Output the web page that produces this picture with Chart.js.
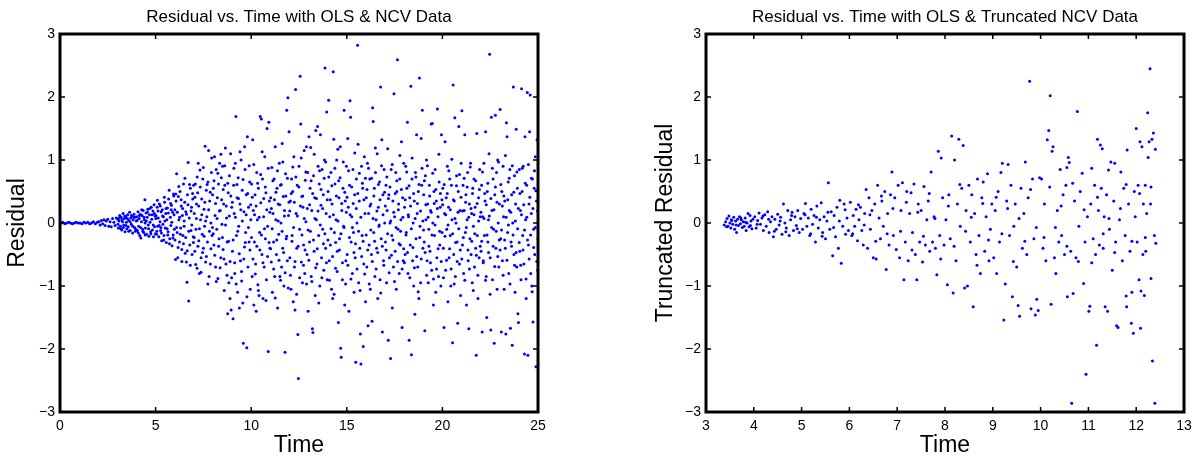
<!DOCTYPE html>
<html><head><meta charset="utf-8">
<script src="https://cdn.jsdelivr.net/npm/chart.js@4/dist/chart.umd.min.js"></script>
<style>
html,body{margin:0;padding:0;background:#fff;}
#wrap{position:relative;width:1202px;height:462px;}
.c{position:absolute;top:0;width:601px;height:462px;}
</style></head>
<body><div id="wrap">
<div class="c" style="left:0"><canvas id="cl"></canvas></div>
<div class="c" style="left:601px"><canvas id="cr"></canvas></div>
</div>
<script>
// ---------- LEFT: Residual vs Time (OLS & NCV) ----------
const leftFlat0to5 = [
[0.05,0],[0.15,0.01],[0.25,-0.01],[0.35,0],[0.45,0.01],[0.55,0],[0.65,-0.01],[0.75,0],[0.85,0.01],[0.95,0],[1.05,0],[1.15,-0.01],[1.25,0.01],[1.35,0],[1.45,0.01],[1.55,-0.01],[1.65,0],[1.75,0.02],[1.85,-0.01],[1.95,0.01],
[2.03,0.02],[2.1,-0.03],[2.17,0.04],[2.23,-0.01],[2.3,0.05],[2.36,-0.04],[2.42,0.03],[2.5,0.06],[2.55,-0.05],[2.62,0.02],[2.68,-0.06],[2.75,0.07],[2.82,0.01],[2.88,-0.04],[2.95,0.08],
[3.02,0.06],[3.05,-0.08],[3.09,0.03],[3.12,0.12],[3.16,-0.05],[3.2,0.09],[3.23,-0.11],[3.27,0.02],[3.3,0.15],[3.33,-0.03],[3.37,0.07],[3.4,-0.14],[3.44,0.1],[3.47,0.01],[3.5,-0.09],[3.54,0.13],[3.57,-0.06],[3.6,0.04],[3.64,0.17],[3.67,-0.12],[3.7,0.08],[3.73,-0.02],[3.77,0.11],[3.8,-0.16],[3.83,0.05],[3.87,0.14],[3.9,-0.07],[3.93,0.09],[3.96,-0.1],[3.99,0.03],
[4.02,0.1],[4.05,-0.12],[4.08,0.18],[4.11,-0.05],[4.14,0.07],[4.17,-0.2],[4.2,0.14],[4.23,-0.24],[4.26,0.02],[4.29,0.12],[4.32,-0.1],[4.35,0.2],[4.38,-0.15],[4.41,0.05],[4.44,0.37],[4.47,-0.08],[4.5,0.16],[4.53,-0.18],[4.56,0.09],[4.59,0.22],[4.62,-0.03],[4.65,-0.21],[4.68,0.13],[4.71,0.01],[4.74,-0.14],[4.77,0.25],[4.8,0.06],[4.83,-0.11],[4.86,0.19],[4.89,-0.22],[4.92,0.29],[4.95,-0.06],[4.97,0.11],[4.99,-0.17],[4.45,0.0],
[3.035,-0.02],[3.105,0.08],[3.175,-0.09],[3.245,0.05],[3.315,-0.07],[3.385,0.11],[3.455,-0.04],[3.525,0.07],[3.595,-0.13],[3.665,0.02],[3.735,0.12],[3.805,-0.05],[3.875,0.09],[3.945,-0.13],[4.035,0.04],[4.095,-0.16],[4.155,0.12],[4.215,-0.07],[4.275,0.21],[4.335,-0.13],[4.395,0.09],[4.455,-0.19],[4.515,0.03],[4.575,0.17],[4.635,-0.09],[4.695,0.23],[4.755,-0.17],[4.815,0.13],[4.875,-0.03],[4.935,0.15]
];
const leftGrow5to10 = [
[5.02,0.12],[5.05,-0.18],[5.08,0.25],[5.11,-0.05],[5.14,0.08],[5.17,-0.22],[5.2,0.3],[5.23,0.02],[5.26,-0.12],[5.29,0.18],[5.32,-0.28],[5.35,0.21],[5.38,-0.02],[5.41,0.1],[5.44,-0.2],[5.47,0.33],[5.5,-0.08],[5.53,0.15],[5.56,-0.31],[5.59,0.05],[5.62,0.24],[5.65,-0.14],[5.68,0.38],[5.71,0.52],[5.74,-0.25],[5.77,0.09],[5.8,-0.04],[5.83,0.28],[5.86,-0.36],[5.89,0.17],[5.92,-0.19],[5.95,0.43],[5.98,-0.1],
[6.01,0.21],[6.04,-0.58],[6.07,0.35],[6.1,0.78],[6.13,-0.15],[6.16,-0.55],[6.19,0.42],[6.22,0.05],[6.25,-0.3],[6.28,0.5],[6.31,-0.08],[6.34,0.27],[6.37,-0.42],[6.4,0.12],[6.43,-0.2],[6.46,0.62],[6.49,-0.05],[6.52,0.33],[6.55,-0.48],[6.58,0.18],[6.61,-0.62],[6.64,-0.94],[6.67,0.45],[6.7,0.96],[6.73,-1.24],[6.76,0.08],[6.79,-0.35],[6.82,0.55],[6.85,-0.12],[6.88,0.25],[6.91,-0.5],[6.94,0.38],[6.97,-0.22],[6.99,0.6],
[7.02,0.15],[7.05,-0.45],[7.08,0.62],[7.11,-0.1],[7.14,0.3],[7.17,-0.72],[7.2,0.48],[7.23,0.95],[7.26,-0.28],[7.29,-0.8],[7.32,0.84],[7.35,0.05],[7.38,-0.55],[7.41,0.38],[7.44,-0.18],[7.47,0.7],[7.5,-0.4],[7.53,0.22],[7.56,-0.05],[7.59,1.22],[7.62,-0.62],[7.65,0.52],[7.68,0.1],[7.71,-0.3],[7.74,0.65],[7.77,1.15],[7.8,-0.85],[7.83,0.35],[7.86,-0.65],[7.89,0.0],[7.92,0.8],[7.95,-0.2],[7.98,0.45],
[8.02,0.55],[8.05,-0.35],[8.08,1.05],[8.11,0.12],[8.14,-0.7],[8.17,0.85],[8.2,-0.1],[8.23,0.4],[8.26,-0.88],[8.29,0.62],[8.32,-0.25],[8.35,0.95],[8.38,0.2],[8.41,-0.55],[8.44,0.72],[8.47,-0.02],[8.5,0.9],[8.53,-0.42],[8.56,0.3],[8.59,-1.07],[8.62,0.6],[8.65,1.19],[8.68,-0.65],[8.71,0.08],[8.74,-0.3],[8.77,-1.44],[8.8,0.48],[8.83,-0.95],[8.86,0.75],[8.89,-1.2],[8.92,1.1],[8.95,-1.38],[8.98,0.25],
[9.02,-0.45],[9.05,-1.52],[9.08,0.6],[9.11,0.15],[9.14,-0.8],[9.17,0.95],[9.2,1.69],[9.23,-0.2],[9.26,0.4],[9.29,-1.1],[9.32,0.72],[9.35,-0.05],[9.38,-1.35],[9.41,0.3],[9.44,-0.6],[9.47,1.0],[9.5,-0.92],[9.53,0.52],[9.56,-1.27],[9.59,-1.91],[9.62,0.18],[9.65,-0.38],[9.68,0.85],[9.71,-0.15],[9.74,0.45],[9.77,-1.98],[9.8,1.37],[9.83,-0.7],[9.86,0.25],[9.89,-0.3],[9.92,0.65],[9.95,-1.05],[9.98,0.05]
];
const leftGrowExtra5to10 = [
[5.015,0.07],[5.065,-0.13],[5.125,0.19],[5.185,-0.04],[5.245,0.27],[5.305,-0.16],[5.365,0.11],[5.425,-0.27],[5.485,0.03],[5.545,0.23],[5.605,-0.09],[5.665,0.16],[5.725,-0.33],[5.785,0.31],[5.845,0.01],[5.905,-0.24],[5.965,0.13],[5.095,0.36],[5.275,-0.07],[5.455,0.41],[5.635,-0.19],[5.815,0.21],[5.935,0.46],
[6.015,-0.27],[6.055,0.46],[6.095,-0.07],[6.135,0.17],[6.175,-0.39],[6.215,0.58],[6.255,0.09],[6.295,-0.18],[6.335,0.37],[6.375,-0.61],[6.415,0.23],[6.455,-0.33],[6.495,0.03],[6.535,0.71],[6.575,-0.23],[6.615,0.14],[6.655,-0.44],[6.695,0.29],[6.735,-0.13],[6.775,0.61],[6.815,-0.67],[6.855,0.19],[6.895,-0.03],[6.935,0.47],[6.975,-0.31],
[7.015,-0.23],[7.055,0.41],[7.095,-0.66],[7.135,0.07],[7.175,0.73],[7.215,-0.37],[7.255,0.27],[7.295,-0.09],[7.335,0.57],[7.375,-0.78],[7.415,0.13],[7.455,-0.47],[7.495,0.88],[7.535,-0.21],[7.575,0.33],[7.615,0.03],[7.655,-0.53],[7.695,0.61],[7.735,-0.97],[7.775,0.21],[7.815,-0.13],[7.855,0.49],[7.895,-0.41],[7.935,1.03],[7.975,-0.07],
[8.015,-0.17],[8.055,0.67],[8.095,-0.51],[8.135,0.31],[8.175,-0.93],[8.215,0.07],[8.255,0.79],[8.295,-0.37],[8.335,0.19],[8.375,-0.71],[8.415,1.09],[8.455,0.37],[8.495,-0.23],[8.535,0.53],[8.575,-0.57],[8.615,0.91],[8.655,-0.03],[8.695,0.27],[8.735,-0.83],[8.775,0.63],[8.815,-0.29],[8.855,0.11],[8.895,-0.61],[8.935,0.43],[8.975,-0.87],
[9.015,0.33],[9.055,-0.27],[9.095,0.87],[9.135,-0.63],[9.175,0.09],[9.215,-0.97],[9.255,0.61],[9.295,-0.13],[9.335,0.39],[9.375,-0.49],[9.415,1.13],[9.455,0.21],[9.495,-0.77],[9.535,0.03],[9.575,0.69],[9.615,-0.57],[9.655,1.21],[9.695,-0.31],[9.735,0.13],[9.775,-1.17],[9.815,0.47],[9.855,-0.07],[9.895,0.91],[9.935,-0.43],[9.975,0.29]
];
const leftMid10to15 = [
[10.02,0.62],[10.05,-0.85],[10.08,1.32],[10.11,0.2],[10.14,-1.3],[10.17,-0.3],[10.2,0.45],[10.23,-0.65],[10.26,-1.4],[10.29,0.8],[10.32,0.05],[10.35,-0.98],[10.38,0.55],[10.41,-1.15],[10.44,-0.15],[10.47,1.69],[10.5,0.32],[10.53,1.65],[10.56,-0.5],[10.59,0.7],[10.62,-1.2],[10.65,0.1],[10.68,-0.7],[10.71,1.05],[10.74,-0.25],[10.77,0.48],[10.8,-0.9],[10.83,1.5],[10.86,-0.05],[10.89,-2.04],[10.92,1.6],[10.95,0.35],[10.98,-0.4],
[11.02,0.4],[11.05,-0.62],[11.08,0.88],[11.11,-1.1],[11.14,0.15],[11.17,-0.3],[11.2,0.7],[11.23,-0.85],[11.26,1.21],[11.29,0.05],[11.32,-0.5],[11.35,0.55],[11.38,-1.35],[11.41,0.3],[11.44,-0.18],[11.47,0.95],[11.5,-0.85],[11.53,0.6],[11.56,0.0],[11.59,-0.7],[11.62,1.26],[11.65,-0.4],[11.68,0.42],[11.71,-1.0],[11.74,0.2],[11.77,-2.05],[11.8,0.78],[11.83,-0.25],[11.86,1.79],[11.89,-0.6],[11.92,1.99],[11.95,0.12],[11.98,1.45],
[12.02,-0.55],[12.05,0.35],[12.08,-1.05],[12.11,0.7],[12.14,-0.2],[12.17,0.5],[12.2,-1.25],[12.23,1.05],[12.26,-0.7],[12.29,-1.38],[12.32,2.12],[12.35,0.15],[12.38,-0.4],[12.41,0.6],[12.44,-1.77],[12.47,-2.47],[12.5,0.9],[12.53,-0.1],[12.56,2.33],[12.59,1.57],[12.62,-0.62],[12.65,0.42],[12.68,-0.95],[12.71,0.25],[12.74,-0.35],[12.77,1.15],[12.8,-0.8],[12.83,0.68],[12.86,0.02],[12.89,1.21],[12.92,-0.5],[12.95,0.8],[12.98,-1.4],
[13.02,1.37],[13.05,-0.3],[13.08,0.55],[13.11,1.2],[13.14,-0.85],[13.17,0.2],[13.2,-1.68],[13.23,-1.74],[13.26,0.75],[13.29,-0.45],[13.32,0.4],[13.35,-1.15],[13.38,1.47],[13.41,0.05],[13.44,-0.65],[13.47,1.53],[13.5,0.9],[13.53,-0.2],[13.56,0.62],[13.59,-1.0],[13.62,1.4],[13.65,0.28],[13.68,-0.55],[13.71,0.85],[13.74,-0.1],[13.77,0.45],[13.8,-0.75],[13.83,1.0],[13.86,2.46],[13.89,-0.4],[13.92,0.15],[13.95,1.76],[13.98,-0.9],
[14.02,0.5],[14.05,1.95],[14.08,-0.6],[14.11,0.1],[14.14,-0.35],[14.17,0.8],[14.2,-1.05],[14.23,0.3],[14.26,-1.2],[14.29,2.4],[14.32,1.33],[14.35,-0.15],[14.38,0.62],[14.41,-0.72],[14.44,0.05],[14.47,1.0],[14.5,-0.45],[14.53,1.17],[14.56,-1.58],[14.59,0.4],[14.62,-0.25],[14.65,0.72],[14.68,-1.99],[14.71,-2.13],[14.74,0.2],[14.77,-0.9],[14.8,0.55],[14.83,-0.05],[14.86,1.79],[14.89,-1.3],[14.92,0.35],[14.95,-0.6],[14.98,0.9]
];
const leftMidExtra10to15 = [
[10.015,-0.23],[10.055,0.41],[10.095,-0.57],[10.135,0.93],[10.175,0.13],[10.215,-0.81],[10.255,0.27],[10.295,-0.37],[10.335,0.63],[10.375,-1.07],[10.415,0.09],[10.455,-0.43],[10.495,0.77],[10.535,-0.19],[10.575,1.13],[10.615,-0.63],[10.655,0.39],[10.695,-0.09],[10.735,0.57],[10.775,-1.23],[10.815,0.21],[10.855,-0.53],[10.895,0.87],[10.935,-0.31],[10.975,0.17],
[11.015,-0.41],[11.055,0.23],[11.095,-0.09],[11.135,0.67],[11.175,-0.73],[11.215,0.37],[11.255,-1.19],[11.295,0.49],[11.335,-0.27],[11.375,0.83],[11.415,0.03],[11.455,-0.59],[11.495,0.29],[11.535,-0.91],[11.575,0.61],[11.615,-0.13],[11.655,0.97],[11.695,-0.47],[11.735,0.11],[11.775,-0.79],[11.815,0.43],[11.855,-0.21],[11.895,0.71],[11.935,-1.03],[11.975,0.33],
[12.015,0.19],[12.055,-0.83],[12.095,0.47],[12.135,-0.29],[12.175,0.89],[12.215,-0.07],[12.255,0.33],[12.295,-0.61],[12.335,0.73],[12.375,-1.13],[12.415,0.11],[12.455,-0.37],[12.495,0.57],[12.535,-0.87],[12.575,0.27],[12.615,1.03],[12.655,-0.19],[12.695,0.43],[12.735,-0.67],[12.775,0.07],[12.815,-0.43],[12.855,0.81],[12.895,-0.97],[12.935,0.23],[12.975,-0.11],
[13.015,-0.59],[13.055,0.29],[13.095,-0.13],[13.135,0.67],[13.175,-0.93],[13.215,0.47],[13.255,-0.27],[13.295,1.09],[13.335,0.07],[13.375,-0.71],[13.415,0.39],[13.455,-0.41],[13.495,0.19],[13.535,-1.27],[13.575,0.83],[13.615,-0.03],[13.655,0.53],[13.695,-0.87],[13.735,0.23],[13.775,-0.33],[13.815,0.71],[13.855,-0.17],[13.895,0.97],[13.935,-0.63],[13.975,0.37],
[14.015,-0.27],[14.055,0.73],[14.095,-0.91],[14.135,0.37],[14.175,-0.09],[14.215,0.59],[14.255,-0.53],[14.295,0.13],[14.335,-1.13],[14.375,0.87],[14.415,-0.31],[14.455,0.43],[14.495,-0.77],[14.535,0.03],[14.575,0.67],[14.615,-0.43],[14.655,1.21],[14.695,-0.17],[14.735,0.31],[14.775,-0.63],[14.815,0.97],[14.855,-0.07],[14.895,0.49],[14.935,-0.97],[14.975,0.17]
];
const leftLate15to20 = [
[15.02,-0.5],[15.05,1.34],[15.08,0.25],[15.11,-1.4],[15.14,0.6],[15.17,1.94],[15.2,1.68],[15.23,-0.3],[15.26,0.1],[15.29,-0.8],[15.32,0.85],[15.35,-0.15],[15.38,-1.1],[15.41,0.45],[15.44,-0.55],[15.47,-2.21],[15.5,0.7],[15.53,0.0],[15.56,2.82],[15.59,1.25],[15.62,-0.95],[15.65,0.35],[15.68,-0.4],[15.71,-1.76],[15.74,-2.24],[15.77,0.9],[15.8,-0.2],[15.83,0.55],[15.86,-1.96],[15.89,-0.65],[15.92,1.05],[15.95,0.15],[15.98,-1.25],
[16.02,0.4],[16.05,-0.7],[16.08,0.95],[16.11,-1.63],[16.14,0.15],[16.17,-0.35],[16.2,0.7],[16.23,-1.05],[16.26,0.3],[16.29,-0.5],[16.32,-1.56],[16.35,1.83],[16.38,1.61],[16.41,-0.15],[16.44,0.55],[16.47,-0.85],[16.5,0.8],[16.53,0.05],[16.56,-0.4],[16.59,1.1],[16.62,-1.2],[16.65,0.25],[16.68,-0.05],[16.71,0.65],[16.74,-0.9],[16.77,2.16],[16.8,-0.25],[16.83,1.32],[16.86,-1.73],[16.89,0.45],[16.92,-0.6],[16.95,0.85],[16.98,0.0],
[17.02,-0.3],[17.05,0.6],[17.08,-0.95],[17.11,0.2],[17.14,1.18],[17.17,-1.86],[17.2,0.45],[17.23,-0.55],[17.26,0.0],[17.29,-2.15],[17.32,0.85],[17.35,-0.2],[17.38,-1.35],[17.41,0.35],[17.44,-0.7],[17.47,2.05],[17.5,0.1],[17.53,-0.45],[17.56,0.8],[17.59,-1.05],[17.62,0.5],[17.65,2.59],[17.68,-0.1],[17.71,0.3],[17.74,-0.8],[17.77,0.7],[17.8,-0.35],[17.83,0.05],[17.86,1.29],[17.89,-1.66],[17.92,0.4],[17.95,-0.6],[17.98,0.95],
[18.02,0.25],[18.05,-0.5],[18.08,0.9],[18.11,-0.15],[18.14,0.55],[18.17,1.6],[18.2,-0.8],[18.23,0.1],[18.26,-1.86],[18.29,0.4],[18.32,-0.35],[18.35,2.17],[18.38,-2.09],[18.41,0.7],[18.44,-0.6],[18.47,0.0],[18.5,-1.0],[18.53,0.35],[18.56,-1.45],[18.59,0.8],[18.62,-0.25],[18.65,1.4],[18.68,0.15],[18.71,-0.7],[18.74,0.5],[18.77,-1.2],[18.8,2.3],[18.83,-0.05],[18.86,-0.95],[18.89,1.34],[18.92,0.6],[18.95,1.79],[18.98,-0.4],
[19.02,0.45],[19.05,-0.3],[19.08,-1.71],[19.11,0.75],[19.14,0.05],[19.17,1.0],[19.2,-0.6],[19.23,0.3],[19.26,-0.95],[19.29,-0.1],[19.32,0.6],[19.35,-0.45],[19.38,0.2],[19.41,1.57],[19.44,-0.75],[19.47,1.58],[19.5,0.0],[19.53,-1.3],[19.56,0.5],[19.59,-0.2],[19.62,0.85],[19.65,-1.1],[19.68,0.35],[19.71,-0.55],[19.74,1.81],[19.77,0.1],[19.8,-0.85],[19.83,0.65],[19.86,-0.35],[19.89,0.25],[19.92,-1.0],[19.95,1.4],[19.98,-0.15]
];
const leftLateExtra15to20 = [
[15.015,0.41],[15.055,-0.67],[15.095,0.83],[15.135,-0.23],[15.175,0.13],[15.215,-0.89],[15.255,0.57],[15.295,-0.07],[15.335,0.31],[15.375,-0.47],[15.415,1.11],[15.455,-0.33],[15.495,0.23],[15.535,-0.73],[15.575,0.47],[15.615,-0.13],[15.655,0.79],[15.695,-1.07],[15.735,0.09],[15.775,-0.53],[15.815,0.63],[15.855,-0.29],[15.895,0.37],[15.935,-0.81],[15.975,0.71],
[16.015,-0.19],[16.055,0.53],[16.095,-0.43],[16.135,0.87],[16.175,-0.97],[16.215,0.27],[16.255,-0.11],[16.295,0.71],[16.335,-0.61],[16.375,0.07],[16.415,0.43],[16.455,-0.29],[16.495,1.19],[16.535,-0.73],[16.575,0.19],[16.615,-0.47],[16.655,0.61],[16.695,-0.03],[16.735,0.37],[16.775,-1.11],[16.815,0.91],[16.855,-0.37],[16.895,0.13],[16.935,-0.67],[16.975,0.49],
[17.015,0.27],[17.055,-0.43],[17.095,0.73],[17.135,-0.17],[17.175,0.39],[17.215,-0.79],[17.255,0.57],[17.295,0.03],[17.335,-0.51],[17.375,0.93],[17.415,-0.27],[17.455,0.17],[17.495,-0.93],[17.535,0.47],[17.575,-0.07],[17.615,0.67],[17.655,-0.61],[17.695,0.21],[17.735,-0.33],[17.775,1.07],[17.815,-0.13],[17.855,0.53],[17.895,-0.73],[17.935,0.09],[17.975,-0.41],
[18.015,-0.63],[18.055,0.37],[18.095,-0.19],[18.135,0.81],[18.175,-0.47],[18.215,0.13],[18.255,0.59],[18.295,-0.87],[18.335,0.27],[18.375,-0.09],[18.415,1.03],[18.455,-0.39],[18.495,0.47],[18.535,-0.71],[18.575,0.07],[18.615,0.73],[18.655,-0.53],[18.695,0.31],[18.735,-1.09],[18.775,0.61],[18.815,-0.23],[18.855,0.19],[18.895,-0.57],[18.935,0.87],[18.975,0.03],
[19.015,-0.11],[19.055,0.67],[19.095,-0.47],[19.135,0.29],[19.175,-0.83],[19.215,0.91],[19.255,0.09],[19.295,-0.37],[19.335,0.43],[19.375,-0.63],[19.415,0.17],[19.455,-0.19],[19.495,0.79],[19.535,-0.89],[19.575,0.31],[19.615,-0.03],[19.655,0.53],[19.695,-0.73],[19.735,0.23],[19.775,-0.41],[19.815,1.09],[19.855,-0.13],[19.895,0.47],[19.935,-0.61],[19.975,0.37]
];
const leftEnd20to25 = [
[20.02,0.55],[20.05,-0.4],[20.08,-1.66],[20.11,0.15],[20.14,1.29],[20.17,-0.75],[20.2,0.4],[20.23,-0.1],[20.26,0.9],[20.29,-1.25],[20.32,0.25],[20.35,-0.55],[20.38,0.7],[20.41,-0.2],[20.44,-1.0],[20.47,0.6],[20.5,0.05],[20.53,-1.9],[20.56,2.19],[20.59,-0.5],[20.62,0.35],[20.65,1.67],[20.68,-0.85],[20.71,0.0],[20.74,0.75],[20.77,-0.3],[20.8,-1.59],[20.83,0.5],[20.86,1.53],[20.89,-0.65],[20.92,0.2],[20.95,-1.15],[20.98,0.95],
[21.02,1.78],[21.05,-0.35],[21.08,0.6],[21.11,-0.8],[21.14,0.2],[21.17,1.4],[21.2,-0.15],[21.23,0.45],[21.26,-1.3],[21.29,0.05],[21.32,0.8],[21.35,-0.6],[21.38,-1.68],[21.41,0.3],[21.44,-0.25],[21.47,0.95],[21.5,-0.5],[21.53,0.15],[21.56,-0.95],[21.59,0.55],[21.62,-0.05],[21.65,0.7],[21.68,-0.7],[21.71,0.25],[21.74,-0.4],[21.77,-2.1],[21.8,1.42],[21.83,-0.2],[21.86,-1.2],[21.89,0.4],[21.92,-0.55],[21.95,0.85],[21.98,0.1],
[22.02,-0.45],[22.05,0.6],[22.08,-1.73],[22.11,0.1],[22.14,-0.6],[22.17,0.95],[22.2,-0.2],[22.23,0.35],[22.26,1.45],[22.29,-0.85],[22.32,-1.5],[22.35,0.5],[22.38,-0.3],[22.41,0.05],[22.44,1.1],[22.47,2.68],[22.5,-0.55],[22.53,-1.7],[22.56,1.68],[22.59,0.2],[22.62,-0.9],[22.65,0.7],[22.68,-0.1],[22.71,-1.91],[22.74,0.45],[22.77,1.71],[22.8,-0.4],[22.83,0.8],[22.86,-1.05],[22.89,1.0],[22.92,0.0],[22.95,-0.7],[22.98,0.3],
[23.02,1.8],[23.05,-0.25],[23.08,-1.73],[23.11,0.5],[23.14,-0.6],[23.17,0.9],[23.2,0.1],[23.23,-1.05],[23.26,0.35],[23.29,-0.4],[23.32,-1.76],[23.35,1.59],[23.38,1.37],[23.41,-0.15],[23.44,0.65],[23.47,-0.8],[23.5,0.2],[23.53,0.85],[23.56,-1.67],[23.59,-0.3],[23.62,0.45],[23.65,-1.94],[23.68,0.0],[23.71,2.16],[23.74,-0.5],[23.77,0.75],[23.8,-1.1],[23.83,0.3],[23.86,1.49],[23.89,-0.7],[23.92,0.55],[23.95,-1.44],[23.98,-1.58],
[24.02,0.85],[24.05,-0.45],[24.08,0.2],[24.11,-0.9],[24.14,2.13],[24.17,0.5],[24.2,-0.2],[24.23,0.9],[24.26,-0.65],[24.29,-2.08],[24.32,1.37],[24.35,0.05],[24.38,-1.2],[24.41,0.6],[24.44,2.07],[24.47,-2.1],[24.5,-0.35],[24.53,0.3],[24.56,1.45],[24.59,2.03],[24.62,-0.8],[24.65,0.15],[24.68,-1.0],[24.71,0.7],[24.74,-1.57],[24.77,-0.1],[24.8,0.55],[24.83,-0.5],[24.86,1.05],[24.89,-2.28],[24.92,0.35],[24.95,1.32],[24.98,-0.75],[25.0,1.0],[25.0,-0.25]
];
const leftEndExtra20to25 = [
[20.015,0.29],[20.055,-0.87],[20.095,0.61],[20.135,-0.21],[20.175,0.13],[20.215,-0.59],[20.255,0.47],[20.295,-0.03],[20.335,0.83],[20.375,-0.41],[20.415,0.21],[20.455,-0.73],[20.495,1.01],[20.535,-0.17],[20.575,0.37],[20.615,-0.97],[20.655,0.07],[20.695,-0.31],[20.735,0.59],[20.775,-0.61],[20.815,0.17],[20.855,-0.09],[20.895,0.77],[20.935,-0.43],[20.975,0.41],
[21.015,-0.57],[21.055,0.19],[21.095,-0.23],[21.135,0.71],[21.175,-0.91],[21.215,0.33],[21.255,-0.07],[21.295,0.57],[21.335,-0.43],[21.375,0.09],[21.415,-0.73],[21.455,0.89],[21.495,0.23],[21.535,-0.29],[21.575,0.47],[21.615,-1.07],[21.655,0.13],[21.695,-0.17],[21.735,0.67],[21.775,-0.51],[21.815,0.31],[21.855,-0.83],[21.895,0.03],[21.935,0.53],[21.975,-0.37],
[22.015,0.17],[22.055,-0.29],[22.095,0.81],[22.135,-0.63],[22.175,0.07],[22.215,0.47],[22.255,-0.91],[22.295,0.29],[22.335,-0.19],[22.375,0.63],[22.415,-0.47],[22.455,0.11],[22.495,-1.13],[22.535,0.39],[22.575,-0.07],[22.615,0.87],[22.655,-0.37],[22.695,0.21],[22.735,-0.69],[22.775,0.57],[22.815,-0.13],[22.855,0.33],[22.895,-0.53],[22.935,0.97],[22.975,-0.27],
[23.015,-0.43],[23.055,0.61],[23.095,-0.11],[23.135,0.27],[23.175,-0.83],[23.215,0.43],[23.255,-0.27],[23.295,1.07],[23.335,0.09],[23.375,-0.59],[23.415,0.37],[23.455,-0.03],[23.495,0.71],[23.535,-0.97],[23.575,0.17],[23.615,-0.37],[23.655,0.91],[23.695,-0.19],[23.735,0.49],[23.775,-0.67],[23.815,0.03],[23.855,-0.47],[23.895,0.81],[23.935,-0.09],[23.975,0.23],
[24.015,-0.31],[24.055,0.47],[24.095,-0.67],[24.135,0.13],[24.175,0.87],[24.215,-0.43],[24.255,0.29],[24.295,-0.11],[24.335,0.63],[24.375,-0.89],[24.415,0.09],[24.455,-0.27],[24.495,0.93],[24.535,-0.57],[24.575,0.41],[24.615,-0.19],[24.655,0.71],[24.695,-1.09],[24.735,0.23],[24.775,-0.39],[24.815,0.83],[24.855,-0.07],[24.895,0.51],[24.935,-0.61],[24.975,0.19]
];

// ---------- RIGHT: Truncated residual vs Time ----------
const rightEarly3to6 = [
[3.38,-0.03],[3.41,0.02],[3.44,0.07],[3.46,-0.05],[3.48,0.11],[3.5,0.0],[3.52,-0.08],[3.54,0.04],[3.56,-0.02],[3.58,0.09],[3.6,-0.1],[3.62,0.03],[3.64,-0.15],[3.66,0.06],[3.68,-0.04],[3.7,0.1],[3.72,-0.01],[3.74,0.05],[3.76,-0.07],[3.78,0.02],[3.8,-0.05],[3.82,0.08],[3.84,-0.12],[3.86,0.0],[3.88,0.15],[3.9,-0.06],[3.92,0.12],[3.94,0.03],[3.96,-0.09],[3.98,0.06],
[4.02,0.1],[4.05,-0.08],[4.08,0.04],[4.11,0.16],[4.14,-0.02],[4.17,0.08],[4.2,-0.12],[4.23,0.13],[4.26,-0.05],[4.29,0.18],[4.32,-0.15],[4.35,0.02],[4.38,0.1],[4.41,-0.22],[4.44,0.06],[4.47,-0.1],[4.5,0.14],[4.53,-0.03],[4.56,0.09],[4.59,-0.18],[4.62,0.3],[4.65,0.0],[4.68,-0.08],[4.71,0.2],[4.74,-0.2],[4.77,0.05],[4.8,0.17],[4.83,-0.12],[4.86,0.1],[4.89,-0.04],[4.92,0.2],[4.95,-0.15],[4.98,0.07],
[5.02,-0.1],[5.05,0.15],[5.08,0.31],[5.11,-0.05],[5.14,0.08],[5.17,-0.2],[5.2,0.22],[5.23,-0.02],[5.26,0.12],[5.29,-0.3],[5.32,0.27],[5.35,-0.08],[5.38,0.05],[5.41,0.32],[5.44,-0.15],[5.47,0.1],[5.5,-0.25],[5.53,0.03],[5.56,0.64],[5.59,-0.1],[5.62,0.18],[5.65,-0.52],[5.68,0.12],[5.71,-0.22],[5.74,0.25],[5.77,-0.4],[5.8,0.36],[5.83,-0.64],[5.86,-0.05],[5.89,0.3],[5.92,-0.18],[5.95,0.08],[5.98,-0.12]
];
const rightMid6to9 = [
[6.02,0.33],[6.05,-0.2],[6.08,0.12],[6.11,-0.05],[6.14,0.22],[6.17,-0.28],[6.2,0.05],[6.23,0.25],[6.26,-0.12],[6.29,-0.35],[6.32,0.15],[6.35,0.53],[6.38,-0.4],[6.41,0.4],[6.44,-0.1],[6.47,0.2],[6.5,-0.55],[6.53,0.3],[6.56,-0.57],[6.59,0.6],[6.62,0.08],[6.65,-0.25],[6.68,0.35],[6.71,-0.05],[6.74,0.5],[6.77,-0.74],[6.8,0.15],[6.83,-0.35],[6.86,0.45],[6.89,0.81],[6.92,-0.2],[6.95,0.4],[6.98,-0.42],
[7.02,0.6],[7.05,-0.55],[7.08,0.2],[7.11,0.64],[7.14,-0.9],[7.17,-0.3],[7.2,0.5],[7.23,-0.6],[7.26,0.15],[7.29,0.48],[7.32,-0.15],[7.35,0.62],[7.38,-0.5],[7.41,-0.9],[7.44,0.3],[7.47,-0.3],[7.5,0.2],[7.53,-0.62],[7.56,0.58],[7.59,-0.35],[7.62,0.05],[7.65,0.35],[7.68,-0.45],[7.71,0.81],[7.74,-0.3],[7.77,0.1],[7.8,-0.4],[7.83,-0.82],[7.86,1.14],[7.89,-0.2],[7.92,1.03],[7.95,0.4],[7.98,-0.35],
[8.02,0.05],[8.05,-0.98],[8.08,0.45],[8.11,-0.25],[8.14,1.38],[8.17,-1.11],[8.2,1.0],[8.23,-0.6],[8.26,0.3],[8.29,1.33],[8.32,-0.05],[8.35,0.55],[8.38,1.23],[8.41,-1.03],[8.44,0.2],[8.47,-1.0],[8.5,0.6],[8.53,-0.3],[8.56,0.45],[8.59,-1.33],[8.62,0.15],[8.65,-0.5],[8.68,0.7],[8.71,-0.2],[8.74,-0.8],[8.77,0.4],[8.8,0.65],[8.83,-0.45],[8.86,0.1],[8.89,0.78],[8.92,-0.6],[8.95,-0.1],[8.98,0.3]
];
const rightLate9to12 = [
[9.02,-0.55],[9.05,0.2],[9.08,-0.8],[9.11,0.5],[9.14,-0.3],[9.17,0.8],[9.2,0.95],[9.23,-1.54],[9.26,-0.97],[9.29,0.35],[9.32,0.93],[9.35,-0.2],[9.38,0.6],[9.41,-1.17],[9.44,-0.05],[9.47,0.3],[9.5,-0.7],[9.53,-1.31],[9.56,-1.48],[9.59,0.55],[9.62,-0.4],[9.65,0.15],[9.68,0.97],[9.71,-0.5],[9.74,0.4],[9.77,2.25],[9.8,-1.36],[9.83,0.7],[9.86,-0.25],[9.89,-1.46],[9.92,-1.21],[9.95,-1.39],[9.98,0.72],
[10.02,0.7],[10.05,-0.4],[10.08,0.3],[10.11,-0.6],[10.14,1.32],[10.17,1.47],[10.2,2.02],[10.22,-1.29],[10.24,1.14],[10.26,1.21],[10.29,-0.55],[10.32,-0.8],[10.35,0.2],[10.38,-0.3],[10.41,0.85],[10.44,-0.2],[10.47,0.45],[10.5,-0.5],[10.53,0.6],[10.55,0.88],[10.56,-1.17],[10.58,1.04],[10.6,0.96],[10.63,-0.45],[10.65,-2.86],[10.68,-1.12],[10.71,0.35],[10.74,-0.55],[10.77,1.77],[10.8,-0.05],[10.83,0.5],[10.87,0.79],[10.9,-0.96],[10.93,-0.3],[10.95,-2.4],[10.98,0.1],
[11.01,-1.4],[11.03,-1.32],[11.05,0.3],[11.07,0.87],[11.1,-0.25],[11.13,0.6],[11.15,-0.5],[11.17,-1.94],[11.19,1.33],[11.21,0.2],[11.23,-0.35],[11.25,1.24],[11.27,0.55],[11.29,1.18],[11.31,-0.4],[11.33,0.1],[11.35,-1.33],[11.38,0.45],[11.4,-1.4],[11.42,0.84],[11.44,-0.1],[11.47,0.97],[11.5,-0.75],[11.53,0.35],[11.55,0.95],[11.57,-0.3],[11.59,-1.63],[11.62,-1.66],[11.65,0.05],[11.68,0.81],[11.71,-0.6],[11.74,0.55],[11.77,-0.2],[11.79,-1.16],[11.8,-1.33],[11.81,1.16],[11.84,0.3],[11.87,-0.45],[11.9,-1.59],[11.91,-1.1],[11.94,-1.75],[11.96,0.5],[11.98,0.1]
];
const rightEnd12to13 = [
[12.0,1.5],[12.02,-0.3],[12.04,0.6],[12.06,-0.9],[12.08,1.29],[12.09,-1.67],[12.1,-1.08],[12.12,1.21],[12.14,-0.5],[12.15,0.3],[12.17,-1.15],[12.19,0.6],[12.2,-0.45],[12.22,0.15],[12.24,1.75],[12.25,1.04],[12.27,1.29],[12.29,2.45],[12.3,0.3],[12.31,-0.88],[12.33,1.33],[12.34,-2.19],[12.36,1.43],[12.38,-0.2],[12.39,-2.86],[12.4,1.17],[12.41,-0.32]
];
const rightExtra = [
[3.43,-0.06],[3.53,0.05],[3.63,-0.03],[3.73,0.08],[3.83,0.01],[3.93,-0.04],
[4.07,-0.02],[4.19,0.11],[4.31,0.06],[4.43,-0.13],[4.55,0.03],[4.67,-0.14],[4.79,0.12],[4.91,-0.09],
[5.07,0.13],[5.19,-0.17],[5.31,0.09],[5.43,-0.21],[5.55,0.17],[5.67,-0.07],[5.79,0.03],[5.91,0.21],
[6.07,-0.17],[6.19,0.29],[6.31,-0.03],[6.43,0.13],[6.55,-0.29],[6.67,0.43],[6.79,-0.17],[6.91,0.23],
[7.07,-0.13],[7.19,0.33],[7.31,-0.43],[7.43,0.17],[7.55,-0.21],[7.67,0.47],[7.79,0.07],[7.91,-0.57],
[8.07,0.27],[8.19,-0.37],[8.31,0.61],[8.43,-0.13],[8.55,0.09],[8.67,-0.67],[8.79,0.31],[8.91,-0.27],
[9.07,0.41],[9.19,-0.17],[9.31,0.23],[9.43,-0.61],[9.55,0.07],[9.67,-0.29],[9.79,0.53],[9.91,-0.07],
[10.07,-0.23],[10.19,0.57],[10.31,-0.07],[10.43,0.27],[10.55,-0.37],[10.67,0.63],[10.79,-0.61],[10.91,0.21],
[11.07,-0.63],[11.19,0.41],[11.31,-0.17],[11.43,0.07],[11.55,-0.47],[11.67,0.23],[11.79,0.61],[11.91,-0.29],
[12.07,0.47],[12.19,-0.23],[12.31,0.57]
];

const leftXTicks = [0, 25, 5];      // min, max, step
const rightXTicks = [3, 13, 1];
const yTicks = [-3, 3, 1];

const FONT = "'Liberation Sans', Arial, Helvetica, sans-serif";

const framePlugin = {
  id: 'frame',
  afterDatasetsDraw(chart, args, o) {
    const ctx = chart.ctx, a = chart.chartArea, x = chart.scales.x, y = chart.scales.y;
    ctx.save();
    ctx.strokeStyle = '#000';
    ctx.lineWidth = 1.5;
    ctx.beginPath();
    x.ticks.forEach(t => {
      const p = x.getPixelForValue(t.value);
      ctx.moveTo(p, a.bottom); ctx.lineTo(p, a.bottom - 5);
      ctx.moveTo(p, a.top); ctx.lineTo(p, a.top + 5);
    });
    y.ticks.forEach(t => {
      const p = y.getPixelForValue(t.value);
      ctx.moveTo(a.left, p); ctx.lineTo(a.left + 5, p);
      ctx.moveTo(a.right, p); ctx.lineTo(a.right - 5, p);
    });
    ctx.stroke();
    ctx.lineWidth = 3;
    ctx.strokeRect(a.left, a.top, a.right - a.left, a.bottom - a.top);
    ctx.fillStyle = '#000';
    ctx.textAlign = 'center';
    ctx.textBaseline = 'middle';
    ctx.font = '17px ' + FONT;
    ctx.fillText(o.title, (a.left + a.right) / 2, 17);
    ctx.font = '23px ' + FONT;
    ctx.fillText(o.xTitle, (a.left + a.right) / 2, 446);
    ctx.translate(o.yTitleX, (a.top + a.bottom) / 2);
    ctx.rotate(-Math.PI / 2);
    ctx.fillText(o.yTitle, 0, 0);
    ctx.restore();
  }
};

function makeChart(id, points, xt, padLeft, padRight, title, yTitle, yTitleX) {
  return new Chart(document.getElementById(id), {
    type: 'scatter',
    data: { datasets: [{ data: points.map(p => ({ x: p[0], y: p[1] })),
      backgroundColor: '#0000ff', borderWidth: 0, pointRadius: 1.5, pointHoverRadius: 1.5 }] },
    options: {
      responsive: false, animation: false, devicePixelRatio: 1,
      layout: { padding: { top: 34, left: 0, right: padRight, bottom: 0 } },
      plugins: { legend: { display: false }, tooltip: { enabled: false }, title: { display: false },
        frame: { title: title, xTitle: 'Time', yTitle: yTitle, yTitleX: yTitleX } },
      scales: {
        x: { type: 'linear', min: xt[0], max: xt[1],
          grid: { display: false, drawTicks: false }, border: { display: false },
          ticks: { stepSize: xt[2], padding: 6, color: '#000', font: { family: FONT, size: 14 }, maxRotation: 0 },
          afterFit: s => { s.height = 50; } },
        y: { type: 'linear', min: yTicks[0], max: yTicks[1],
          grid: { display: false, drawTicks: false }, border: { display: false },
          ticks: { stepSize: yTicks[2], padding: 5, color: '#000', font: { family: FONT, size: 14 },
            callback: v => (v < 0 ? '\u2212' + Math.abs(v) : String(v)) },
          afterFit: s => { s.width = padLeft; } }
      }
    },
    plugins: [framePlugin]
  });
}

const cl = document.getElementById('cl'); cl.width = 601; cl.height = 462;
const cr = document.getElementById('cr'); cr.width = 601; cr.height = 462;

makeChart('cl', [].concat(leftFlat0to5, leftGrow5to10, leftGrowExtra5to10, leftMid10to15, leftMidExtra10to15,
  leftLate15to20, leftLateExtra15to20, leftEnd20to25, leftEndExtra20to25),
  leftXTicks, 60, 63, 'Residual vs. Time with OLS & NCV Data', 'Residual', 18);
makeChart('cr', [].concat(rightEarly3to6, rightExtra, rightMid6to9, rightLate9to12, rightEnd12to13),
  rightXTicks, 105, 18, 'Residual vs. Time with OLS & Truncated NCV Data', 'Truncated Residual', 65);
</script>
</body></html>
